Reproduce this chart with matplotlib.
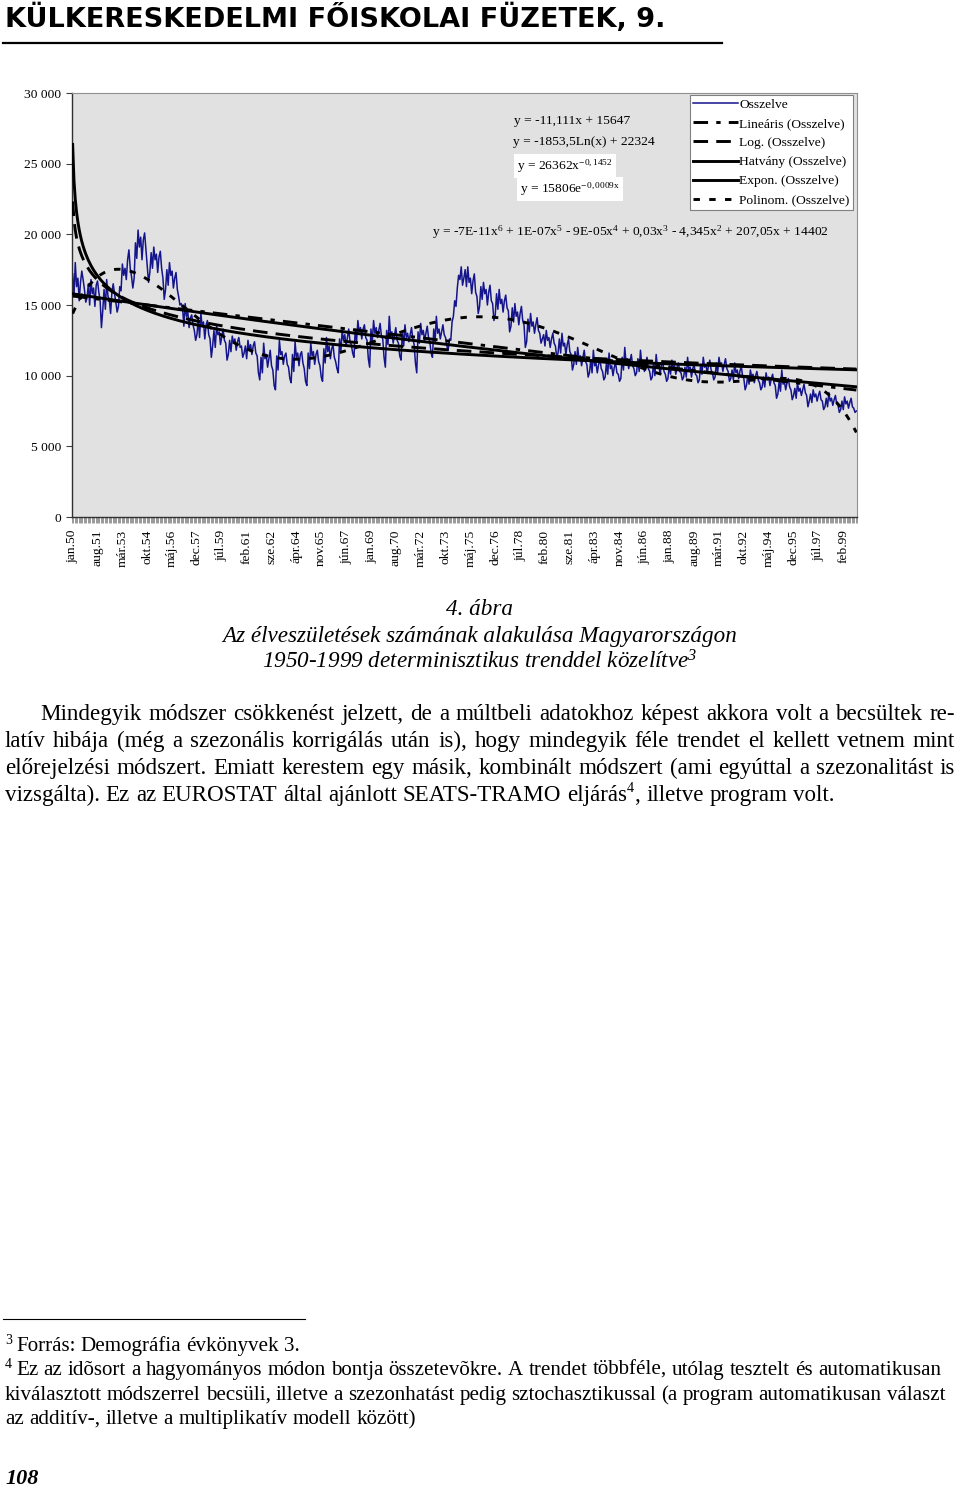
import numpy as np
import matplotlib
matplotlib.use("Agg")
import matplotlib.pyplot as plt
from matplotlib.lines import Line2D
from matplotlib import ticker

plt.rcParams['font.family'] = ['Liberation Serif', 'DejaVu Serif']
plt.rcParams['mathtext.fontset'] = 'custom'
plt.rcParams['mathtext.rm'] = 'Liberation Serif'
plt.rcParams['mathtext.it'] = 'Liberation Serif:italic'

# monthly live births, jan 1950 - dec 1999
births_1950s = [
    17200, 15600, 18000, 16300, 16900, 15300, 16600, 17400, 16800, 16100, 15200, 15500,
    16500, 15000, 16800, 15800, 16200, 14900, 16400, 16700, 15900, 15300, 13400, 14600,
    16100, 14700, 16800, 15600, 15400, 14400, 15900, 16500, 15800, 15200, 14500, 14900,
    16300, 16000, 17900, 17100, 17600, 16800, 18200, 18900, 17600, 17000, 16200, 16900,
    19400, 18300, 20300, 19100, 19800, 18200, 19600, 20100, 18900, 17800, 16600, 17300,
    18700, 17600, 19100, 18200, 18600, 17300, 18400, 18800, 17600, 16900, 15400, 16100,
    17500, 16400, 18000, 17100, 17400, 16200, 16900, 17300, 16100, 15600, 15000, 15100,
    14800, 13500, 15100, 14200, 14500, 13400, 14100, 14300, 13600, 13200, 12500, 12900,
    14000, 12700, 14400, 13500, 13800, 12600, 13600, 13900, 12900, 12600, 11300, 12100,
    13200, 12000, 13500, 12900, 13100, 12200, 12800, 13300, 12500, 12300, 11100, 11500,
]
births_1960s = [
    12500, 11700, 12800, 12300, 12600, 11800, 12400, 12700, 12000, 12100, 11300, 11600,
    12100, 11200, 12500, 11800, 12200, 11500, 12100, 12400, 11600, 11400, 10200, 9700,
    11300, 10200, 12300, 11200, 11500, 10600, 11200, 11800, 10700, 10400, 9300, 9000,
    11400, 10400, 12500, 11500, 11700, 10800, 11400, 11600, 10800, 10600, 9800, 9500,
    11500, 10300, 12400, 11300, 11600, 10700, 11500, 11700, 10900, 10500, 9600, 9300,
    11600, 10500, 12300, 11400, 11700, 10800, 11500, 11800, 11000, 10700, 9900, 9600,
    11900, 10900, 12700, 11700, 12100, 11200, 11900, 12200, 11300, 11000, 10500, 10200,
    12600, 11700, 13200, 12500, 12900, 12100, 12700, 13300, 12400, 12200, 11600, 11300,
    13300, 12400, 13900, 13100, 13400, 12600, 13300, 13600, 12700, 12500, 11200, 10600,
    13300, 12300, 13900, 13000, 13400, 12700, 13200, 13700, 12800, 12600, 11300, 10600,
]
births_1970s = [
    13200, 12200, 14200, 12800, 13100, 12300, 12900, 13400, 12500, 12300, 11400, 11100,
    13100, 12100, 13600, 12700, 13000, 12400, 12900, 13400, 12600, 12200, 10900, 10200,
    13100, 12300, 13700, 12900, 13200, 12500, 13000, 13500, 12700, 12400, 11600, 11300,
    13300, 12400, 14200, 13000, 13300, 12600, 13100, 13600, 12900, 12700, 12100, 11800,
    12600, 12500, 13800, 14200, 15300, 14900, 16200, 17100, 16800, 17700, 16400, 16900,
    17500, 16300, 17700, 16600, 16900, 15800, 16700, 17200, 15900, 15600, 14400, 14900,
    16300, 15400, 16600, 15800, 16100, 15000, 15900, 16400, 15300, 15100, 13900, 14300,
    15800, 14700, 16100, 15100, 15400, 14500, 15300, 15700, 14800, 14600, 13100, 13500,
    14800, 13800, 15100, 14200, 14500, 13600, 14400, 14900, 13900, 13600, 12000, 12400,
    14000, 13100, 14400, 13500, 13800, 13000, 13600, 14100, 13200, 13000, 12300, 12600,
]
births_1980s = [
    12900, 12100, 13200, 12500, 12700, 12000, 12600, 13000, 12300, 12100, 11300, 11600,
    12600, 11600, 13000, 12100, 12300, 11500, 12200, 12600, 11700, 11500, 10400, 10800,
    11700, 10800, 12000, 11200, 11400, 10700, 11300, 11800, 11000, 10800, 9900, 10200,
    11100, 10200, 11800, 10700, 10900, 10200, 10800, 11200, 10500, 10300, 9700, 9900,
    10900, 10100, 11600, 10500, 10700, 10000, 10600, 10900, 10200, 10100, 9600, 9800,
    11300, 10400, 12000, 10900, 11200, 10500, 11000, 11500, 10700, 10500, 10000, 10200,
    11200, 10300, 11800, 10800, 11000, 10300, 10900, 11300, 10500, 10300, 9700, 9900,
    10900, 10000, 11500, 10600, 10800, 10100, 10700, 11000, 10300, 10100, 9600, 9800,
    10700, 10100, 11100, 10500, 10700, 10100, 10600, 10900, 10300, 10200, 9700, 9900,
    10600, 9900, 11300, 10400, 10600, 9900, 10500, 10800, 10100, 10000, 9500, 9700,
]
births_1990s = [
    10800, 10100, 11300, 10600, 10800, 10200, 10700, 11100, 10400, 10200, 9700, 9900,
    10900, 10200, 11300, 10700, 10900, 10300, 10800, 11200, 10500, 10300, 9600, 9800,
    10400, 9700, 10900, 10200, 10400, 9800, 10300, 10700, 10000, 9800, 9000, 9300,
    10000, 9400, 10400, 9900, 10100, 9500, 10000, 10300, 9700, 9500, 9000, 9200,
    9900, 9200, 10200, 9700, 9900, 9300, 9800, 10100, 9500, 9300, 8400, 8700,
    9600, 8900, 10400, 9400, 9600, 9000, 9500, 9800, 9200, 9000, 8300, 8600,
    9100, 8400, 9500, 8900, 9100, 8600, 9000, 9400, 8800, 8600, 7800, 8200,
    8700, 8100, 9000, 8500, 8700, 8200, 8600, 8900, 8300, 8200, 7600, 7800,
    8400, 7800, 8800, 8200, 8400, 7900, 8300, 8600, 8000, 7900, 7400, 7600,
    8200, 7600, 8500, 8000, 8200, 7700, 8100, 8400, 7800, 7700, 7400, 7500,
]

tick_labels = ["jan.50", "aug.51", "már.53", "okt.54", "máj.56", "dec.57", "júl.59", "feb.61",
               "sze.62", "ápr.64", "nov.65", "jún.67", "jan.69", "aug.70", "már.72", "okt.73",
               "máj.75", "dec.76", "júl.78", "feb.80", "sze.81", "ápr.83", "nov.84", "jún.86",
               "jan.88", "aug.89", "már.91", "okt.92", "máj.94", "dec.95", "júl.97", "feb.99"]

# trendline coefficients as printed on the chart
lin_coef = (-11.111, 15647)
log_coef = (-1853.5, 22324)
pow_coef = (26362, -0.1452)
exp_coef = (15806, -0.0009)

births = np.array(births_1950s + births_1960s + births_1970s + births_1980s + births_1990s, dtype=float)
x = np.arange(1, len(births) + 1)

W, H = 960, 1488
fig = plt.figure(figsize=(W / 100, H / 100), dpi=100)

def fx(px):
    return px / W

def fy(py):
    return 1 - py / H

# header
fig.text(fx(5), fy(27), "KÜLKERESKEDELMI FŐISKOLAI FÜZETEK, 9.", fontsize=19.5,
         fontweight="bold", family="DejaVu Sans", va="baseline", ha="left")
fig.add_artist(Line2D([fx(3), fx(722)], [fy(43), fy(43)], color="black", lw=1.6))

# chart
cs = 9.7  # chart text size
ax = fig.add_axes([fx(72), fy(517), fx(857) - fx(72), (517 - 93) / H])
ax.set_facecolor("#e1e1e1")
ax.plot(x, births, color="#14148c", lw=1.1, zorder=2, label="Osszelve")

lw_t = 2.1
ax.plot(x, lin_coef[0] * x + lin_coef[1], color="black", lw=lw_t, dashes=(5, 2.8, 1.5, 2.8),
        zorder=3, label="Lineáris (Osszelve)")
ax.plot(x, log_coef[0] * np.log(x) + log_coef[1], color="black", lw=lw_t, dashes=(5, 2.8),
        zorder=3, label="Log. (Osszelve)")
ax.plot(x, pow_coef[0] * x ** pow_coef[1], color="black", lw=lw_t, zorder=3,
        label="Hatvány (Osszelve)")
ax.plot(x, exp_coef[0] * np.exp(exp_coef[1] * x), color="black", lw=lw_t, zorder=3,
        label="Expon. (Osszelve)")
poly = np.polynomial.Polynomial.fit(x, births, 6)
ax.plot(x, poly(x), color="black", lw=lw_t, dashes=(2.2, 3.2), zorder=3,
        label="Polinom. (Osszelve)")

ax.set_xlim(0.5, len(births) + 0.5)
ax.set_ylim(0, 30000)
ax.set_yticks(np.arange(0, 30001, 5000))
ax.yaxis.set_major_formatter(ticker.FuncFormatter(lambda v, p: f"{int(v):,}".replace(",", " ")))
ax.tick_params(axis="y", length=4, width=0.8, color="#404040", labelsize=cs, pad=4)

ax.set_xticks(np.arange(1, len(births) + 1, 19))
ax.set_xticklabels(tick_labels, rotation=90)
ax.set_xticks(np.arange(0.5, len(births) + 1, 1), minor=True)
ax.tick_params(axis="x", which="major", length=0, labelsize=cs, pad=9)
ax.tick_params(axis="x", which="minor", length=4, width=0.5, color="#707070")

for side in ["top", "right"]:
    ax.spines[side].set_color("#909090")
for side in ["left", "bottom"]:
    ax.spines[side].set_color("#303030")
    ax.spines[side].set_linewidth(1.0)

leg = ax.legend(loc="upper right", bbox_to_anchor=(fx(853), fy(95)), bbox_transform=fig.transFigure,
                borderaxespad=0, fontsize=cs, handlelength=3.3, handletextpad=0.1,
                labelspacing=0.5, borderpad=0.25, fancybox=False, framealpha=1,
                edgecolor="#808080", facecolor="white")
leg.get_frame().set_linewidth(0.8)

eq_kw = dict(fontsize=cs, ha="center", va="center")
fig.text(fx(572), fy(121), "y = -11,111x + 15647", **eq_kw)
fig.text(fx(584), fy(142), "y = -1853,5Ln(x) + 22324", **eq_kw)
fig.text(fx(565), fy(166), r"y = 26362x$^{\mathregular{-0,1452}}$",
         bbox=dict(facecolor="white", edgecolor="none", pad=2), **eq_kw)
fig.text(fx(570), fy(189), r"y = 15806e$^{\mathregular{-0,0009x}}$",
         bbox=dict(facecolor="white", edgecolor="none", pad=2), **eq_kw)
fig.text(fx(432), fy(232),
         r"y = -7E-11x$^{\mathregular{6}}$ + 1E-07x$^{\mathregular{5}}$ - 9E-05x$^{\mathregular{4}}$"
         r" + 0,03x$^{\mathregular{3}}$ - 4,345x$^{\mathregular{2}}$ + 207,05x + 14402",
         fontsize=cs, ha="left", va="center")

# caption
cap_kw = dict(fontsize=16.7, style="italic", ha="center", va="baseline")
fig.text(0.5, fy(615), "4. ábra", **cap_kw)
fig.text(0.5, fy(642), "Az élveszületések számának alakulása Magyarországon", **cap_kw)
fig.text(0.5, fy(668), r"1950-1999 determinisztikus trenddel közelítve$^{\mathregular{3}}$", **cap_kw)

renderer = fig.canvas.get_renderer()

def put_word(word, base, size):
    # "eljárás^4," -> base word, superscript, tail
    parts = []
    if "^" in word:
        head, rest = word.split("^", 1)
        parts.append((head, size, 0))
        parts.append((rest[0], size * 0.62, size * 100 / 72 * 0.38))
        if rest[1:]:
            parts.append((rest[1:], size, 0))
    else:
        parts.append((word, size, 0))
    ts = []
    for txt, sz, rise in parts:
        t = fig.text(0, fy(base - rise), txt, fontsize=sz, va="baseline", ha="left")
        ts.append((t, t.get_window_extent(renderer).width))
    return ts

def put_line(text, x0, x1, base, size, justify=True):
    words = [put_word(w, base, size) for w in text.split(" ")]
    ws = [sum(w for _, w in parts) for parts in words]
    if justify and len(words) > 1:
        gap = (x1 - x0 - sum(ws)) / (len(words) - 1)
    else:
        gap = size * 100 / 72 * 0.25
    pos = x0
    for parts, w in zip(words, ws):
        p = pos
        for t, pw in parts:
            t.set_x(fx(p))
            p += pw
        pos += w + gap

body = 16.6
put_line("Mindegyik módszer csökkenést jelzett, de a múltbeli adatokhoz képest akkora volt a becsültek re-",
         40, 955, 720, body)
put_line("latív hibája (még a szezonális korrigálás után is), hogy mindegyik féle trendet el kellett vetnem mint",
         5, 955, 747, body)
put_line("előrejelzési módszert. Emiatt kerestem egy másik, kombinált módszert (ami egyúttal a szezonalitást is",
         5, 955, 774, body)
put_line("vizsgálta). Ez az EUROSTAT által ajánlott SEATS-TRAMO eljárás^4, illetve program volt.",
         5, 955, 801, body, justify=False)

# footnotes
fig.add_artist(Line2D([fx(3), fx(305)], [fy(1319), fy(1319)], color="black", lw=0.8))
foot = 15.1
fig.text(fx(5), fy(1344), "3", fontsize=10, va="baseline")
put_line("Forrás: Demográfia évkönyvek 3.", 16, 300, 1351, foot, justify=False)
fig.text(fx(5), fy(1368), "4", fontsize=10, va="baseline")
put_line("Ez az idõsort a hagyományos módon bontja összetevõkre. A trendet többféle, utólag tesztelt és automatikusan",
         16, 941, 1375, foot)
put_line("kiválasztott módszerrel becsüli, illetve a szezonhatást pedig sztochasztikussal (a program automatikusan választ",
         5, 945, 1400, foot)
put_line("az additív-, illetve a multiplikatív modell között)", 5, 420, 1424, foot, justify=False)

fig.text(fx(5), fy(1484), "108", fontsize=16, fontweight="bold", style="italic", va="baseline")

fig.savefig("out.png", dpi=100)
